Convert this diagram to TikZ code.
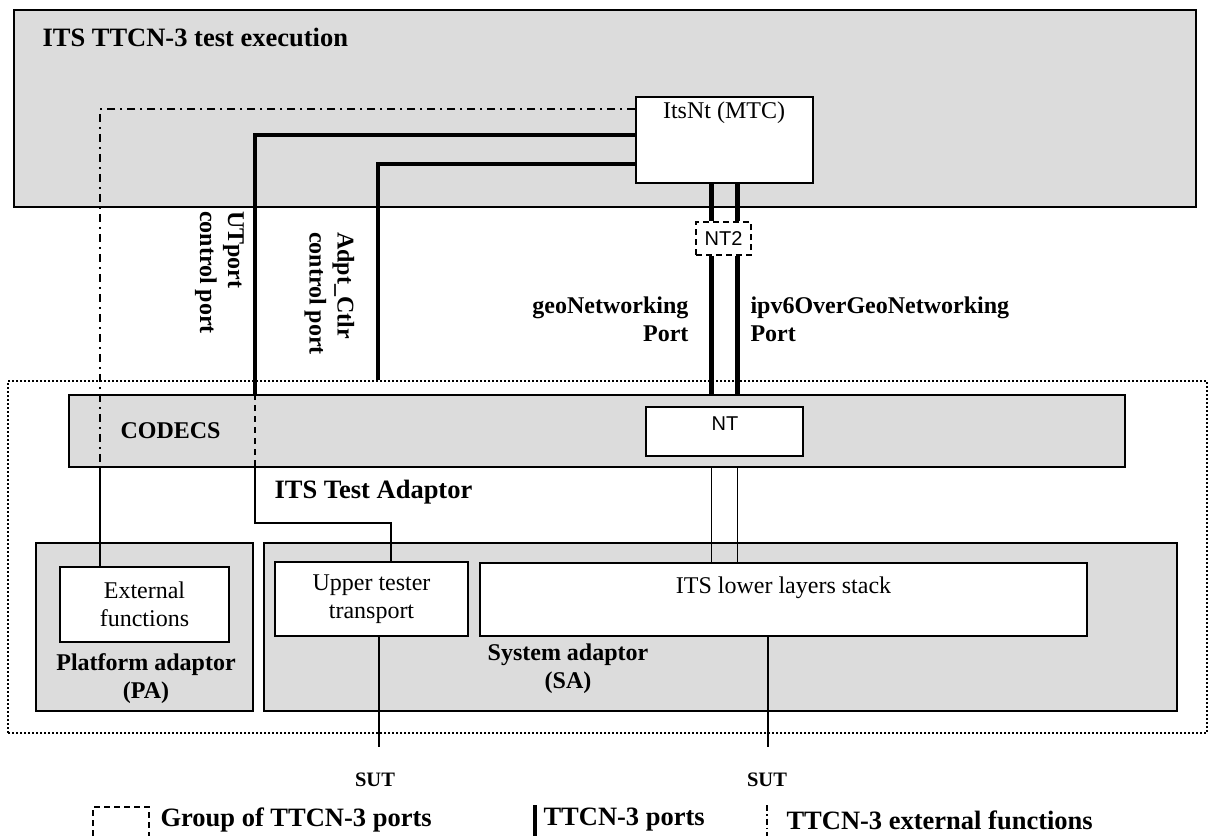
\documentclass[tikz,border=0pt]{standalone}
\usepackage{fontspec}
\setmainfont{Liberation Serif}
\newfontfamily\arialfont{Liberation Sans}
\usetikzlibrary{positioning, backgrounds}
\definecolor{boxgray}{RGB}{220,220,220}
\tikzset{
    box/.style={draw, line width=1.5pt, inner sep=0pt},
    graybox/.style={box, fill=boxgray},
    whitebox/.style={box, fill=white},
    port/.style={line width=4.5pt},
    link/.style={line width=1.8pt},
    extfn/.style={line width=1.5pt, dash pattern=on 8pt off 5pt on 2pt off 5pt},
    txtlbl/.style={font=\fontsize{24}{28}\selectfont},
    boldlbl/.style={font=\fontsize{24}{28}\selectfont\bfseries},
    headlbl/.style={font=\fontsize{26.5}{30}\selectfont\bfseries},
    sanslbl/.style={font=\fontsize{20}{24}\selectfont\arialfont},
    sutlbl/.style={font=\fontsize{20.5}{24}\selectfont\bfseries}
}
\begin{document}
\begin{tikzpicture}[x=1pt, y=-1pt]
            \useasboundingbox (0,0) rectangle (1210,836);
            \node[graybox, minimum width=1182pt, minimum height=197pt] (exec) at (605,108.5) {};
            \node[headlbl, anchor=west] (execlbl) at (39,37) {ITS TTCN-3 test execution};
            \node[whitebox, minimum width=177pt, minimum height=86pt] (mtc) at (724.5,140) {};
            \node[txtlbl] (mtclbl) at (724,113) {ItsNt (MTC)};
            \node[whitebox, dashed, dash pattern=on 6pt off 4pt, sanslbl, minimum width=55pt, minimum height=33pt] (nt2) at (723.5,238.5) {NT2};

            \node[draw, line width=2pt, dash pattern=on 2pt off 2pt, minimum width=1199pt, minimum height=352pt] (frame) at (607.5,557) {};
            \node[graybox, minimum width=1056pt, minimum height=72pt] (codecs) at (597,431) {};
            \node[boldlbl, anchor=west] (codecslbl) at (117,431) {CODECS};
            \node[whitebox, minimum width=157pt, minimum height=49pt] (nt) at (724.5,431.5) {};
            \node[sanslbl] (ntlbl) at (725,424) {NT};
            \node[headlbl, anchor=west] (talbl) at (271,492) {ITS Test Adaptor};

            \node[graybox, minimum width=217pt, minimum height=168pt] (pa) at (144.5,627) {};
            \node[whitebox, txtlbl, align=center, minimum width=169pt, minimum height=75pt] (ext) at (144.5,604.5) {External\\functions};
            \node[boldlbl, align=center] (palbl) at (146,678.5) {Platform adaptor\\(PA)};
            \node[graybox, minimum width=913pt, minimum height=168pt] (sa) at (720.5,627) {};
            \node[whitebox, txtlbl, align=center, minimum width=193pt, minimum height=74pt] (ut) at (371.5,599) {Upper tester\\transport};
            \node[whitebox, minimum width=607pt, minimum height=73pt] (stack) at (783.5,599.5) {};
            \node[txtlbl] (stacklbl) at (783.5,588) {ITS lower layers stack};
            \node[boldlbl, align=center] (salbl) at (568,669) {System adaptor\\(SA)};

            \coordinate (extx) at (100,0);
            \coordinate (utx) at (255,0);
            \coordinate (adx) at (378,0);
            \coordinate (utbend) at (391,523);
            \coordinate (sutA) at (379,747);
            \coordinate (sutB) at (768,747);

            \draw[extfn] ([yshift=31pt]mtc.west) -| (codecs.south -| extx);
            \draw[link] (codecs.south -| extx) -- (ext.north -| extx);
            \draw[port] ([yshift=5pt]mtc.west) -| (codecs.north -| utx);
            \draw[link, dash pattern=on 6pt off 5pt] (codecs.north -| utx) -- (codecs.south -| utx);
            \draw[link] (codecs.south -| utx) |- (utbend) -- (utbend |- ut.north);
            \draw[port] ([yshift=-24pt]mtc.west) -| (frame.north -| adx);

            \draw[port] ([xshift=-13pt]mtc.south) -- ([xshift=-12pt]nt2.north);
            \draw[port] ([xshift=13pt]mtc.south) -- ([xshift=14pt]nt2.north);
            \draw[port] ([xshift=-12pt]nt2.south) -- ([xshift=-12pt]nt2.south |- codecs.north);
            \draw[port] ([xshift=14pt]nt2.south) -- ([xshift=14pt]nt2.south |- codecs.north);
            \draw[link] ([xshift=-13pt]nt.south |- codecs.south) -- ([xshift=-13pt]nt.south |- stack.north);
            \draw[link] ([xshift=13pt]nt.south |- codecs.south) -- ([xshift=13pt]nt.south |- stack.north);

            \draw[link] (ut.south -| sutA) -- (sutA);
            \draw[link] (stack.south -| sutB) -- (sutB);
            \node[sutlbl] (sut1) at (375,780) {SUT};
            \node[sutlbl] (sut2) at (767,780) {SUT};

            \node[boldlbl, rotate=-90, align=left] (utlbl) at (219.5,272.5) {UTport\\control port};
            \node[boldlbl, rotate=-90, align=left] (adlbl) at (329.5,293.5) {Adpt\_Ctlr\\control port};
            \node[boldlbl, align=right, anchor=east] (geolbl) at (692,319) {geoNetworking\\Port};
            \node[boldlbl, align=left, anchor=west] (ipv6lbl) at (747,319) {ipv6OverGeoNetworking\\Port};

            \draw[line width=1.5pt, dash pattern=on 6pt off 4pt] (93,836) |- (149,807) -- (149,836);
            \node[headlbl, anchor=west] (grplbl) at (157,820) {Group of TTCN-3 ports};
            \draw[line width=3.5pt] (535,805) -- (535,836);
            \node[headlbl, anchor=west] (portlbl) at (540,820) {TTCN-3 ports};
            \draw[extfn, line width=1.2pt, dash pattern=on 6pt off 3pt on 1.5pt off 3pt] (767,805) -- (767,836);
            \node[headlbl, anchor=west] (extlbl) at (783,820) {TTCN-3 external functions};
        \end{tikzpicture}
\end{document}
